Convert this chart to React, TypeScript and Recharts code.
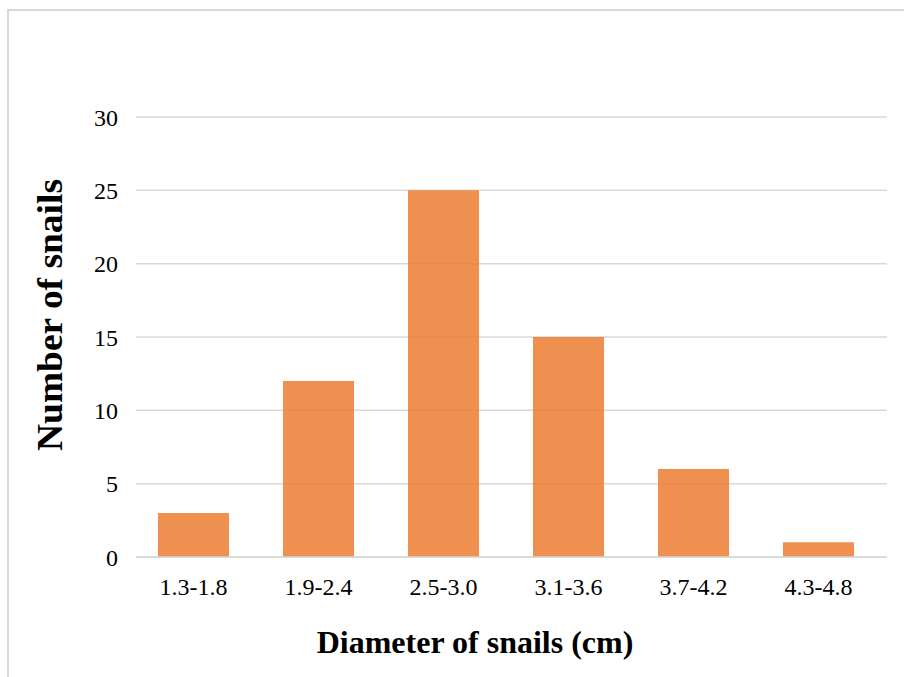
import { BarChart, Bar, XAxis, YAxis, CartesianGrid, Label } from 'recharts';

const categories = ['1.3-1.8', '1.9-2.4', '2.5-3.0', '3.1-3.6', '3.7-4.2', '4.3-4.8'];
const snailCounts = [3, 12, 25, 15, 6, 1];
const yTicks = [0, 5, 10, 15, 20, 25, 30];

const data = categories.map((range, i) => ({ range, count: snailCounts[i] }));

const FONT = '"Liberation Serif", "Times New Roman", serif';

// y title is drawn a bit stretched along its length, like the original picture
const YTitle = () => (
  <text
    x={62}
    y={315}
    transform="rotate(-90, 62, 315)"
    textAnchor="middle"
    fontFamily={FONT}
    fontWeight="bold"
    fontSize={36}
    fill="#000"
    textLength={272}
    lengthAdjust="spacingAndGlyphs"
  >
    Number of snails
  </text>
);

const XTitle = () => (
  <text x={475} y={653} textAnchor="middle" fontFamily={FONT} fontWeight="bold" fontSize={32} fill="#000">
    Diameter of snails (cm)
  </text>
);

export default function App() {
  return (
    <div style={{ position: 'absolute', left: 0, top: 0, width: 904, height: 677, overflow: 'hidden', background: '#fff' }}>
      <div
        style={{
          position: 'absolute',
          left: 7,
          top: 9,
          width: 940,
          height: 720,
          border: '2px solid #d9d9d9',
          boxSizing: 'border-box',
        }}
      />
      <div style={{ position: 'absolute', left: 0, top: 0 }}>
        <BarChart
          width={904}
          height={677}
          data={data}
          margin={{ top: 117, right: 17, bottom: 0, left: 0 }}
          barCategoryGap="21.6%"
        >
          <CartesianGrid vertical={false} stroke="#d9d9d9" strokeWidth={1.5} />
          <XAxis
            dataKey="range"
            padding={{ left: -5, right: 6 }}
            axisLine={{ stroke: '#d9d9d9', strokeWidth: 1.5 }}
            tickLine={false}
            tickSize={0}
            tickMargin={21}
            tick={{ fontFamily: FONT, fontSize: 24, fill: '#000' }}
            height={120}
          >
            <Label content={<XTitle />} />
          </XAxis>
          <YAxis
            domain={[0, 30]}
            ticks={yTicks}
            interval={0}
            width={136}
            axisLine={false}
            tickLine={false}
            tickSize={0}
            tickMargin={18}
            tick={{ fontFamily: FONT, fontSize: 24, fill: '#000' }}
          >
            <Label content={<YTitle />} />
          </YAxis>
          <Bar dataKey="count" fill="#ED7D31" fillOpacity={0.85} isAnimationActive={false} />
        </BarChart>
      </div>
    </div>
  );
}
